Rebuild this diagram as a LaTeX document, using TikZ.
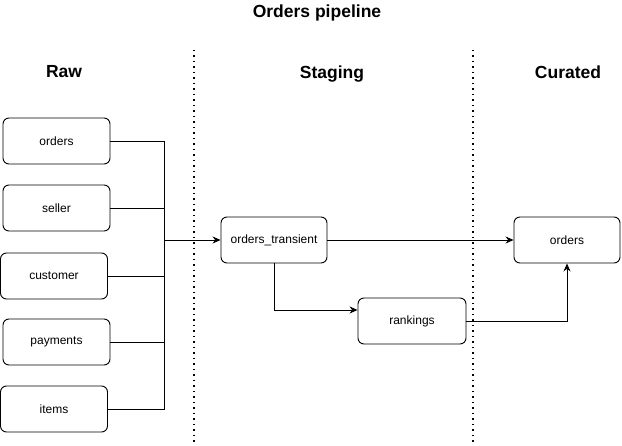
\documentclass[tikz,border=0pt]{standalone}
\usepackage{fontspec}
\setmainfont{Liberation Sans}
\usetikzlibrary{arrows.meta,positioning}

\begin{document}
\begin{tikzpicture}[
    x=1pt, y=-1pt,
    % box and line styles
    table/.style={rectangle, draw=black, rounded corners=6pt, line width=0.9pt, minimum width=107pt, minimum height=46pt, inner sep=0pt, font=\fontsize{12}{14}\selectfont},
    header/.style={font=\fontsize{17.5}{20}\selectfont\bfseries},
    flow/.style={-{Stealth[length=8pt,width=7pt]}, line width=0.9pt},
    link/.style={line width=0.9pt},
    zone/.style={line width=1.3pt, dash pattern=on 1.3pt off 4.2pt}
]
\useasboundingbox (0,0) rectangle (622,446);

% Title
\node[header] (title) at (317, 13) {Orders pipeline};

% Layer headers
\node[header] (raw) at (64, 72) {Raw};
\node[header] (staging) at (332, 74) {Staging};
\node[header] (curated) at (568, 72) {Curated};

% Layer separators
\coordinate (sep1top) at (194, 50);
\coordinate (sep1bot) at (194, 446);
\coordinate (sep2top) at (473, 50);
\coordinate (sep2bot) at (473, 446);
\draw[zone] (sep1top) -- (sep1bot);
\draw[zone] (sep2top) -- (sep2bot);

% Raw tables
\node[table] (orders) at (56.5, 141) {orders};
\node[table] (seller) at (56.5, 208) {seller};
\node[table] (customer) at (54, 276) {customer};
\node[table] (payments) at (56.5, 342) {payments};
\node[table] (items) at (54, 409) {items};

% Staging tables
\node[table, minimum width=106pt] (transient) at (274, 240) {orders\_transient};
\node[table, minimum width=108pt] (rankings) at (412, 321) {rankings};

% Curated table
\node[table, minimum width=106pt] (cur_orders) at (567, 240) {orders};

% Raw to staging
\coordinate (bus) at (164, 240);
\foreach \t in {orders, seller, customer, payments, items}
    \draw[link] (\t.east) -| (bus);
\draw[flow] (bus) -- (transient.west);

% Staging to curated
\draw[flow] (transient.east) -- (cur_orders.west);
\draw[flow] (transient.south) |- ([yshift=11pt]rankings.west);
\draw[flow] (rankings.east) -| (cur_orders.south);

\end{tikzpicture}
\end{document}
